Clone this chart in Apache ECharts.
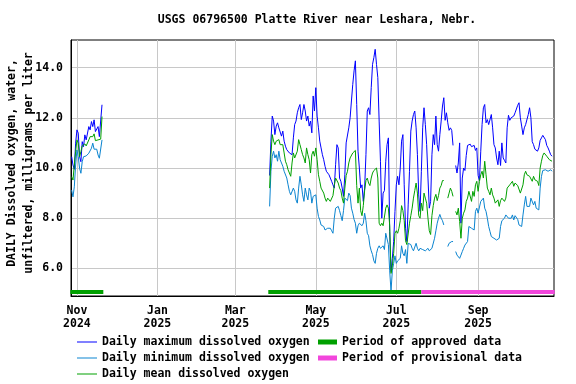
<!DOCTYPE html>
<html><head><meta charset="utf-8">
<script src="https://cdn.jsdelivr.net/npm/echarts@6/dist/echarts.min.js"></script>
<style>html,body{margin:0;padding:0;background:#fff}#c{width:576px;height:384px}</style>
</head><body><div id="c"></div>
<script>
const FONT = '"DejaVu Sans Mono", "Liberation Mono", monospace';

// ---- data ----
const titleText = 'USGS 06796500 Platte River near Leshara, Nebr.';
const yAxisName = 'DAILY Dissolved oxygen, water,\nunfiltered, milligrams per liter';
const yTicks = [6, 8, 10, 12, 14];
const xTickDates = ['2024-11-01', '2025-01-01', '2025-03-01', '2025-05-01', '2025-07-01', '2025-09-01'];
const monthNames = ['Jan','Feb','Mar','Apr','May','Jun','Jul','Aug','Sep','Oct','Nov','Dec'];

// Segment 1: daily values starting 2024-10-28
const seg1Start = '2024-10-28';
const seg1Max = [10.45,10.12,9.95,10.99,11.52,11.39,10.45,10.25,11.05,10.85,11.32,11.12,11.12,11.65,11.52,11.85,11.65,11.92,11.45,11.45,11.65,11.25,11.25,12.52];
const seg1Min = [9.12,8.85,9.25,10.12,10.72,10.45,9.99,9.79,10.25,10.45,10.45,10.48,10.43,10.59,10.65,10.79,10.99,10.75,10.72,10.75,10.52,10.39,10.39,11.12];
const seg1Mean = [9.65,9.52,10.12,10.65,11.12,10.99,10.45,10.65,10.88,10.85,10.96,10.88,10.92,11.12,11.25,11.25,11.25,11.36,11.09,11.15,11.12,11.05,11.15,12.05];

// Segment 2: daily values starting 2025-03-27 (null = no data)
const seg2Start = '2025-03-27';
const seg2Max = [
 9.7,11.07,12.07,11.87,11.33,11.67,11.8,11.6,11.67,11.27,
 11.47,11.07,10.87,10.73,10.67,10.6,10.67,10.53,11.2,11.73,
 11.87,12.2,12.4,12.53,11.93,12.2,12.53,12.27,11.87,12.07,
 11.67,11.87,11.4,12.87,12.27,13.2,12.07,11.6,11.07,10.8,
 10.53,10.33,10.07,9.87,9.8,9.73,9.6,9.47,9.33,9.2,
 10.13,10.93,10.8,9.6,9.47,9.2,8.87,9.73,11.0,11.07,
 11.6,12.0,12.67,13.33,13.87,14.27,12.53,10.67,10.0,9.2,
 9.33,8.67,9.2,10.53,12.27,12.4,12.13,13.2,14.13,14.4,
 14.73,14.13,13.6,11.87,10.27,8.0,9.0,9.1,10.27,10.93,
 11.2,7.47,5.87,6.4,7.07,8.27,9.33,9.67,9.33,10.0,
 11.07,11.33,9.33,7.6,7.07,8.53,9.87,11.47,11.87,12.13,
 12.27,11.6,10.53,8.93,8.27,9.87,11.6,12.4,11.73,10.93,
 9.6,8.4,8.67,10.53,11.33,10.93,12.07,10.93,10.67,11.33,
 11.87,12.47,12.8,11.9,12.2,11.8,11.5,11.6,11.5,10.9,
 null,10.1,9.8,10.2,11.0,7.8,9.6,10.0,9.9,10.5,
 10.9,10.95,10.95,10.85,10.85,10.9,10.7,10.8,9.7,9.5,
 10.67,11.73,12.4,12.53,11.8,11.93,11.73,11.73,12.13,11.6,
 10.93,10.8,10.4,10.13,10.67,10.1,11.0,10.4,10.3,10.2,
 11.6,12.1,11.9,12.0,12.0,12.07,12.2,12.2,12.5,12.6,
 12.0,11.67,11.33,11.6,11.73,11.8,12.13,12.4,12.0,11.05,
 10.93,10.75,10.7,10.67,10.8,11.1,11.2,11.3,11.33,11.13,
 10.9,10.8,10.67,10.53,10.47];
const seg2Min = [
 8.47,9.87,10.47,10.67,10.4,10.53,10.27,10.67,10.33,10.27,
 10.07,9.87,9.8,9.6,9.33,9.07,8.93,8.87,9.2,9.07,
 8.73,8.6,9.2,9.67,9.33,8.93,8.67,9.2,8.93,8.73,
 9.2,9.07,8.6,8.87,8.8,8.93,8.4,8.07,7.93,7.73,
 7.73,7.67,7.53,7.47,7.6,7.53,7.6,7.5,7.4,8.0,
 8.4,8.47,8.47,8.3,8.1,7.9,8.3,8.8,8.87,8.7,
 9.0,8.9,8.4,8.2,7.95,7.8,7.4,7.7,7.8,7.75,
 7.7,7.8,8.2,7.9,7.4,7.3,6.9,6.7,6.55,6.3,
 6.2,6.6,6.8,6.9,6.8,6.75,6.9,6.75,7.4,7.45,
 6.95,5.9,5.1,5.9,6.2,6.5,6.2,6.3,6.35,6.4,
 6.9,6.6,6.5,6.75,6.2,7.0,7.05,6.95,6.8,6.7,
 6.85,7.0,6.8,6.7,6.8,6.85,6.75,6.8,6.7,6.65,
 6.8,6.7,6.75,6.8,6.85,7.2,7.5,7.8,8.0,8.15,
 8.0,7.9,7.73,null,null,6.87,7.0,7.07,7.07,7.07,
 null,6.67,6.53,6.47,6.4,6.53,6.67,6.8,6.93,6.93,
 7.07,7.67,7.67,7.6,7.67,7.53,8.27,8.4,8.2,8.13,
 8.67,8.73,8.8,8.4,8.27,8.0,7.67,7.47,7.27,7.2,
 7.2,7.13,7.13,7.07,7.2,7.67,7.9,7.93,8.0,8.13,
 8.13,8.0,7.93,8.0,8.13,7.93,8.1,8.13,7.95,7.73,
 7.67,7.67,8.13,8.53,8.87,8.47,8.4,8.47,8.8,8.87,
 8.53,8.67,8.4,8.4,8.33,9.2,9.67,9.9,9.87,9.93,
 9.87,9.87,9.87,9.93,9.87];
const seg2Mean = [
 9.2,10.53,11.33,11.07,10.93,11.07,11.0,11.13,10.93,10.87,
 10.93,10.6,10.27,10.13,9.93,9.87,9.67,10.2,10.6,10.4,
 10.33,10.67,11.13,10.93,10.73,10.53,10.4,10.2,10.8,10.53,
 10.33,9.8,10.53,10.67,10.47,10.8,10.33,9.73,9.47,9.2,
 9.13,9.0,8.8,8.67,8.8,8.73,8.67,8.6,8.9,9.3,
 9.6,9.67,9.4,9.2,9.1,8.8,8.6,9.2,9.7,9.87,
 10.2,10.4,10.45,10.6,10.53,10.7,9.3,8.6,9.2,8.3,
 8.1,8.5,9.1,9.5,9.6,9.4,9.3,9.6,9.8,9.9,
 9.9,10.0,9.6,7.8,7.7,7.8,7.7,7.67,8.4,8.53,
 8.4,7.7,5.8,6.1,6.6,7.4,7.5,7.4,7.6,7.9,
 8.5,8.3,7.9,7.1,6.95,6.9,7.8,8.1,8.4,8.8,
 9.1,9.4,9.0,8.1,8.0,8.6,8.3,9.0,8.8,8.6,
 8.0,7.5,7.35,8.1,8.5,8.8,8.95,8.7,8.9,9.2,
 9.3,9.5,9.5,null,null,8.8,9.0,9.2,9.07,8.87,
 null,8.27,8.13,8.4,7.87,7.2,8.0,8.2,8.33,8.67,
 8.8,9.07,9.0,8.67,9.07,8.87,9.33,9.47,9.07,9.47,
 9.73,9.87,9.6,10.27,9.73,9.2,9.07,8.93,9.2,8.93,
 8.8,8.6,8.53,8.73,8.47,8.7,8.8,8.73,8.67,8.8,
 9.2,9.27,9.33,9.3,9.47,9.27,9.4,9.47,9.3,9.27,
 9.0,8.95,9.33,9.73,9.87,9.73,9.8,9.67,9.6,9.47,
 9.67,9.53,9.6,9.47,9.3,10.0,10.27,10.5,10.6,10.53,
 10.47,10.47,10.33,10.27,10.27];

const approvedPeriods = [['2024-10-27', '2024-11-21'], ['2025-03-26', '2025-07-20']];
const provisionalPeriods = [['2025-07-20', '2025-10-29']];
const periodBarLevel = 5.06;

const xMin = '2024-10-27T12:00';
const xMax = '2025-10-28T12:00';
const yMin = 4.9, yMax = 15.1;

const names = {
  max: 'Daily maximum dissolved oxygen',
  min: 'Daily minimum dissolved oxygen',
  mean: 'Daily mean dissolved oxygen',
  appr: 'Period of approved data',
  prov: 'Period of provisional data'
};
const colors = { max: '#0000ff', min: '#0a84d0', mean: '#00a000', appr: '#00a000', prov: '#f246dc' };

// ---- helpers ----
function parseD(s) {
  const [d, t] = s.split('T');
  const [y, m, dd] = d.split('-').map(Number);
  const h = t ? Number(t.split(':')[0]) : 0;
  return new Date(y, m - 1, dd, h).getTime();
}
function daily(startStr, arr) {
  const [y, m, d] = startStr.split('-').map(Number);
  return arr.map((v, i) => [new Date(y, m - 1, d + i).getTime(), v == null ? '-' : v]);
}
function joinSegs(s1, a1, s2, a2) {
  const p1 = daily(s1, a1);
  const gapT = p1[p1.length - 1][0] + 86400000;
  return p1.concat([[gapT, '-']], daily(s2, a2));
}
function periodData(periods) {
  const out = [];
  periods.forEach((p, i) => {
    if (i > 0) out.push([parseD(p[0]) - 1, '-']);
    out.push([parseD(p[0]), periodBarLevel], [parseD(p[1]), periodBarLevel]);
  });
  return out;
}
function lineSeries(key, data, width) {
  return {
    name: names[key], type: 'line', data: data, showSymbol: false, symbol: 'none',
    connectNulls: false, smooth: false,
    lineStyle: { color: colors[key], width: width },
    itemStyle: { color: colors[key] },
    emphasis: { disabled: true }, silent: true, z: 3
  };
}

const txt = { fontFamily: FONT, fontSize: 11.5, fontWeight: 'bold', color: '#000' };

const chart = echarts.init(document.getElementById('c'), null, { renderer: 'canvas' });
chart.setOption({
  animation: false,
  backgroundColor: '#fff',
  title: {
    text: titleText, left: 312, top: 9, textAlign: 'center',
    textStyle: Object.assign({}, txt)
  },
  grid: { left: 71, right: 22, top: 40, bottom: 88, show: true, borderColor: '#000', borderWidth: 1, outerBoundsMode: 'none' },
  xAxis: {
    type: 'value', min: parseD(xMin), max: parseD(xMax),
    axisLine: { show: true, lineStyle: { color: '#000', width: 1 } },
    axisTick: { show: false, customValues: xTickDates.map(parseD) },
    splitLine: { show: true, lineStyle: { color: '#c8c8c8', width: 1 } },
    axisLabel: Object.assign({
      customValues: xTickDates.map(parseD), margin: 9, lineHeight: 13, hideOverlap: false,
      formatter: function (v) { const d = new Date(v); return monthNames[d.getMonth()] + '\n' + d.getFullYear(); }
    }, txt)
  },
  yAxis: {
    type: 'value', min: yMin, max: yMax,
    name: yAxisName, nameLocation: 'middle', nameRotate: 90, nameGap: 33, nameMoveOverlap: false,
    nameTextStyle: Object.assign({ lineHeight: 17, padding: [0, 0, 0, 10] }, txt),
    axisLine: { show: true, lineStyle: { color: '#000', width: 1 } },
    axisTick: { show: false, customValues: yTicks },
    splitLine: { show: true, lineStyle: { color: '#c8c8c8', width: 1 } },
    axisLabel: Object.assign({ customValues: yTicks, margin: 8, formatter: v => v.toFixed(1) }, txt)
  },
  legend: [
    {
      data: [names.max, names.min, names.mean].map(n => ({ name: n, icon: 'rect' })),
      orient: 'vertical', left: 77, top: 335, itemWidth: 20, itemHeight: 1, itemGap: 2,
      itemTextGap: 5, selectedMode: false, padding: 0,
      textStyle: Object.assign({ lineHeight: 14 }, txt)
    },
    {
      data: [names.appr, names.prov].map(n => ({ name: n, icon: 'rect' })),
      orient: 'vertical', left: 318, top: 335, itemWidth: 19, itemHeight: 5, itemGap: 2,
      itemTextGap: 6, selectedMode: false, padding: 0,
      textStyle: Object.assign({ lineHeight: 14 }, txt)
    }
  ],
  series: [
    lineSeries('max', joinSegs(seg1Start, seg1Max, seg2Start, seg2Max), 1),
    lineSeries('min', joinSegs(seg1Start, seg1Min, seg2Start, seg2Min), 1),
    lineSeries('mean', joinSegs(seg1Start, seg1Mean, seg2Start, seg2Mean), 1),
    lineSeries('appr', periodData(approvedPeriods), 4),
    lineSeries('prov', periodData(provisionalPeriods), 4)
  ]
});
</script>
</body></html>
